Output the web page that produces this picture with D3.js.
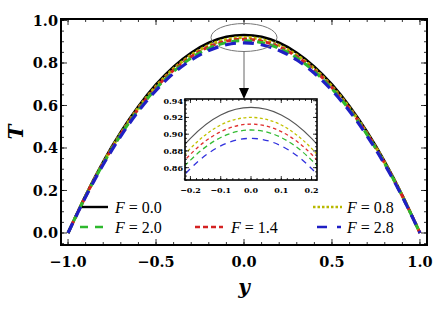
<!DOCTYPE html>
<head>
  <meta charset="utf-8">
  <script src="https://d3js.org/d3.v7.min.js"></script>
  <style>
body { margin: 0; background: #fff; }
svg { display: block; }
.tick-label { font-family: "DejaVu Serif", serif; font-weight: bold; }
.leg { font-family: "Liberation Serif", serif; font-size: 16px; }
  </style>
</head>
<body>
<script>
// y positions where values were read
var yPos = [-1.0,-0.9,-0.8,-0.7,-0.6,-0.5,-0.4,-0.3,-0.2,-0.1,0.0,0.1,0.2,0.3,0.4,0.5,0.6,0.7,0.8,0.9,1.0];
var tF00 = [0,0.177,0.336,0.475,0.596,0.699,0.783,0.848,0.895,0.923,0.932,0.923,0.895,0.848,0.783,0.699,0.596,0.475,0.336,0.177,0];
var tF08 = [0,0.175,0.331,0.469,0.589,0.690,0.773,0.837,0.883,0.911,0.920,0.911,0.883,0.837,0.773,0.690,0.589,0.469,0.331,0.175,0];
var tF14 = [0,0.173,0.328,0.465,0.584,0.684,0.766,0.830,0.876,0.903,0.912,0.903,0.876,0.830,0.766,0.684,0.584,0.465,0.328,0.173,0];
var tF20 = [0,0.172,0.326,0.462,0.579,0.679,0.760,0.824,0.869,0.896,0.905,0.896,0.869,0.824,0.760,0.679,0.579,0.462,0.326,0.172,0];
var tF28 = [0,0.170,0.322,0.456,0.573,0.671,0.752,0.814,0.859,0.886,0.895,0.886,0.859,0.814,0.752,0.671,0.573,0.456,0.322,0.170,0];
var labels = ["F = 0.0","F = 0.8","F = 1.4","F = 2.0","F = 2.8"];
var xTicks = [-1.0,-0.5,0.0,0.5,1.0];
var yTicks = [0.0,0.2,0.4,0.6,0.8,1.0];
var inXTicks = [-0.2,-0.1,0.0,0.1,0.2];
var inYTicks = [0.86,0.88,0.90,0.92,0.94];

var series = [
  {name: labels[0], vals: tF00, color: "#000", dash: null, w: 2.6, iw: 1.1, icolor: "#555", idash: null, ldash: null},
  {name: labels[1], vals: tF08, color: "#b8b800", dash: "3,2", w: 3, iw: 1.3, icolor: "#c2c200", idash: "3,2.5", ldash: "2.5,2"},
  {name: labels[2], vals: tF14, color: "#d42222", dash: "5,3", w: 3, iw: 1.3, icolor: "#e03030", idash: "3.5,3", ldash: "5,3"},
  {name: labels[3], vals: tF20, color: "#2db82d", dash: "8,5", w: 3, iw: 1.3, icolor: "#33bb33", idash: "5,3.5", ldash: "8,7"},
  {name: labels[4], vals: tF28, color: "#1f1fc4", dash: "11,7", w: 3.2, iw: 1.3, icolor: "#3030dd", idash: "6,5", ldash: "10,10"}
];

var svg = d3.select("body").append("svg").attr("width", 437).attr("height", 311);
svg.append("defs").append("clipPath").attr("id", "inclip")
  .append("rect").attr("x", 185).attr("y", 99).attr("width", 132).attr("height", 81);

var x = d3.scaleLinear().domain([-1.04, 1.04]).range([61, 427]);
var y = d3.scaleLinear().domain([-0.0565, 1.007]).range([245, 19]);

function frameTicks(g, xs, ys, xMaj, xMin, yMaj, yMin, L, l) {
  var x0 = xs.range()[0], x1 = xs.range()[1], y0 = ys.range()[0], y1 = ys.range()[1];
  function tx(v, len) {
    g.append("line").attr("x1", xs(v)).attr("x2", xs(v)).attr("y1", y0).attr("y2", y0 - len);
    g.append("line").attr("x1", xs(v)).attr("x2", xs(v)).attr("y1", y1).attr("y2", y1 + len);
  }
  function ty(v, len) {
    g.append("line").attr("y1", ys(v)).attr("y2", ys(v)).attr("x1", x0).attr("x2", x0 + len);
    g.append("line").attr("y1", ys(v)).attr("y2", ys(v)).attr("x1", x1).attr("x2", x1 - len);
  }
  xMin.forEach(function(v) { tx(v, l); });
  xMaj.forEach(function(v) { tx(v, L); });
  yMin.forEach(function(v) { ty(v, l); });
  yMaj.forEach(function(v) { ty(v, L); });
  g.selectAll("line").attr("stroke", "#000").attr("stroke-width", 0.8);
}

// main curves
var line = d3.line().x(function(d, i) { return x(yPos[i]); }).y(function(d) { return y(d); })
  .curve(d3.curveNatural);
series.forEach(function(s) {
  svg.append("path").attr("d", line(s.vals)).attr("fill", "none")
    .attr("stroke", s.color).attr("stroke-width", s.w).attr("stroke-dasharray", s.dash);
});

// main frame + ticks
var fr = svg.append("g");
frameTicks(fr, x, y, xTicks, d3.range(-10, 11).map(function(i) { return i / 10; }),
  yTicks, d3.range(-1, 21).map(function(i) { return i * 0.05; }), 6, 3);
svg.append("rect").attr("x", 61).attr("y", 19).attr("width", 366).attr("height", 226)
  .attr("fill", "none").attr("stroke", "#000").attr("stroke-width", 2);

svg.selectAll(".xl").data(xTicks).enter().append("text").attr("class", "tick-label")
  .attr("x", function(d) { return x(d); }).attr("y", 267).attr("text-anchor", "middle")
  .attr("font-size", 14.5).text(d3.format(".1f"));
svg.selectAll(".yl").data(yTicks).enter().append("text").attr("class", "tick-label")
  .attr("x", 58).attr("y", function(d) { return y(d) + 5.5; }).attr("text-anchor", "end")
  .attr("font-size", 14.5).text(d3.format(".1f"));

svg.append("text").attr("x", 244).attr("y", 294).attr("text-anchor", "middle")
  .attr("font-family", "DejaVu Serif").attr("font-style", "italic").attr("font-weight", "bold")
  .attr("font-size", 20).text("y");
svg.append("text").attr("transform", "translate(23,132) rotate(-90)").attr("text-anchor", "middle")
  .attr("font-family", "DejaVu Serif").attr("font-style", "italic").attr("font-weight", "bold")
  .attr("font-size", 20).text("T");

// zoom ellipse + arrow
svg.append("ellipse").attr("cx", 244).attr("cy", 37.5).attr("rx", 33).attr("ry", 14)
  .attr("fill", "none").attr("stroke", "#777").attr("stroke-width", 1);
svg.append("line").attr("x1", 244).attr("x2", 244).attr("y1", 51.5).attr("y2", 90)
  .attr("stroke", "#666").attr("stroke-width", 1);
svg.append("path").attr("d", "M239,88 L249,88 L244,99 Z").attr("fill", "#000");

// inset
var ix = d3.scaleLinear().domain([-0.218, 0.218]).range([185, 317]);
var iy = d3.scaleLinear().domain([0.8453, 0.942]).range([180, 99]);
svg.append("rect").attr("x", 185).attr("y", 99).attr("width", 132).attr("height", 81).attr("fill", "#fff");
var iline = d3.line().x(function(d, i) { return ix(yPos[i]); }).y(function(d) { return iy(d); })
  .curve(d3.curveNatural);
var ig = svg.append("g").attr("clip-path", "url(#inclip)");
series.forEach(function(s) {
  ig.append("path").attr("d", iline(s.vals)).attr("fill", "none")
    .attr("stroke", s.icolor).attr("stroke-width", s.iw).attr("stroke-dasharray", s.idash);
});
var ifr = svg.append("g");
frameTicks(ifr, ix, iy, inXTicks, d3.range(-11, 11).map(function(i) { return i * 0.02; }),
  inYTicks, d3.range(169, 189).map(function(i) { return i * 0.005; }), 4, 2);
svg.append("rect").attr("x", 185).attr("y", 99).attr("width", 132).attr("height", 81)
  .attr("fill", "none").attr("stroke", "#000").attr("stroke-width", 1.6);
svg.selectAll(".ixl").data(inXTicks).enter().append("text").attr("class", "tick-label")
  .attr("x", function(d) { return ix(d); }).attr("y", 193).attr("text-anchor", "middle")
  .attr("font-size", 8).text(d3.format(".1f"));
svg.selectAll(".iyl").data(inYTicks).enter().append("text").attr("class", "tick-label")
  .attr("x", 183).attr("y", function(d) { return iy(d) + 3; }).attr("text-anchor", "end")
  .attr("font-size", 8).text(d3.format(".2f"));

// legend
var legend = [
  {s: series[0], x: 82, y: 207, len: 26}, {s: series[1], x: 313, y: 207, len: 29},
  {s: series[3], x: 80, y: 227, len: 28}, {s: series[2], x: 195, y: 227, len: 28},
  {s: series[4], x: 317, y: 227, len: 24}
];
legend.forEach(function(d) {
  svg.append("line").attr("x1", d.x).attr("x2", d.x + d.len).attr("y1", d.y).attr("y2", d.y)
    .attr("stroke", d.s.color).attr("stroke-width", 2.4).attr("stroke-dasharray", d.s.ldash);
  var tx0 = d.s === series[1] || d.s === series[4] ? 347 : d.x + d.len + 7 + (d.s === series[2] ? 1 : 0);
  var t = svg.append("text").attr("class", "leg").attr("x", tx0).attr("y", d.y + 5.5);
  t.append("tspan").attr("font-style", "italic").text("F");
  t.append("tspan").text(d.s.name.slice(1));
});
</script>
</body>
